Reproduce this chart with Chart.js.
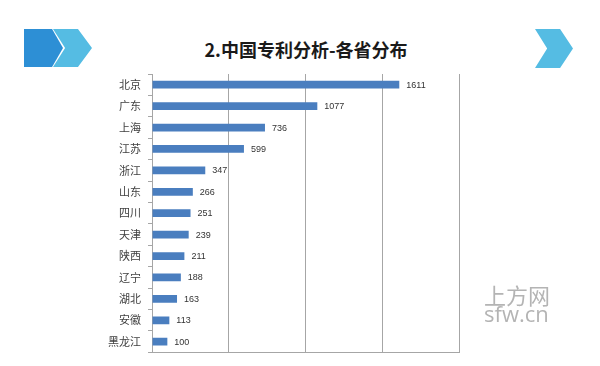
<!DOCTYPE html>
<html>
<head>
<meta charset="utf-8">
<script src="https://cdn.jsdelivr.net/npm/chart.js@4"></script>
<style>
  html, body { margin: 0; padding: 0; background: #fff; }
  #wrap { position: relative; width: 600px; height: 366px; overflow: hidden; }
  #c { position: absolute; left: 0; top: 0; }
  .chev { position: absolute; }
  #title {
    position: absolute; left: 0; width: 612px; top: 40px; text-align: center;
    font: bold 18px "Noto Sans CJK SC", sans-serif; line-height: 18px; color: #1a1a1a;
  }
  .mark { position: absolute; left: 484px; color: #b4b4b4; }
</style>
</head>
<body>
<div id="wrap">
  <div class="chev" style="left:24px;top:29px;width:39px;height:38px;background:#2d8fd5;clip-path:polygon(0 0,72% 0,100% 50%,72% 100%,0 100%);"></div>
  <div class="chev" style="left:53px;top:29px;width:39px;height:38px;background:#55bce3;clip-path:polygon(0 0,64% 0,100% 50%,64% 100%,0 100%,31% 50%);"></div>
  <div class="chev" style="left:535px;top:29px;width:38px;height:39px;background:#55bce3;clip-path:polygon(0 0,66% 0,100% 50%,66% 100%,0 100%,32% 50%);"></div>
  <div id="title">2.中国专利分析-各省分布</div>
  <canvas id="c" width="600" height="366"></canvas>
  <div class="mark" style="top:283px;font:22px/22px 'Noto Sans CJK SC',sans-serif;">上方网</div>
  <div class="mark" style="top:300px;font:22px/26px 'Open Sans',sans-serif;">sfw.cn</div>
</div>
<script>
// ========= data =========
const provinces = ['北京', '广东', '上海', '江苏', '浙江', '山东', '四川', '天津', '陕西', '辽宁', '湖北', '安徽', '黑龙江'];
const patents   = [1611, 1077, 736, 599, 347, 266, 251, 239, 211, 188, 163, 113, 100];
const xTicks    = [0, 500, 1000, 1500, 2000];

// 数值标签（柱子右侧）
const valueLabels = {
  id: 'valueLabels',
  afterDatasetsDraw(chart) {
    const ctx = chart.ctx;
    const meta = chart.getDatasetMeta(0);
    ctx.save();
    ctx.font = '9px "Liberation Sans", sans-serif';
    ctx.fillStyle = '#333';
    ctx.textBaseline = 'middle';
    meta.data.forEach((bar, i) => {
      ctx.fillText(String(patents[i]), bar.x + 7, bar.y + 0.5);
    });
    ctx.restore();
  }
};

new Chart(document.getElementById('c'), {
  type: 'bar',
  data: {
    labels: provinces,
    datasets: [{
      data: patents,
      backgroundColor: '#4a7ebf',
      borderWidth: 0,
      barPercentage: 0.36,
      categoryPercentage: 1
    }]
  },
  options: {
    indexAxis: 'y',
    responsive: false,
    animation: false,
    events: [],
    layout: { padding: { left: 0, right: 141, top: 74, bottom: 13 } },
    plugins: { legend: { display: false }, tooltip: { enabled: false } },
    scales: {
      x: {
        min: xTicks[0],
        max: xTicks[xTicks.length - 1],
        afterBuildTicks: (s) => { s.ticks = xTicks.map(v => ({ value: v })); },
        ticks: { display: false },
        grid: { color: '#a6a6a6', lineWidth: 1, drawTicks: false },
        border: { color: '#a6a6a6' },
        afterFit: (s) => { s.height = 0; }
      },
      y: {
        ticks: {
          color: '#404040',
          font: { family: '"Noto Sans CJK SC", sans-serif', size: 11 },
          padding: 7
        },
        grid: { offset: true, drawOnChartArea: false, drawTicks: true, tickLength: 4, color: '#a6a6a6' },
        border: { color: '#a6a6a6' },
        afterFit: (s) => { s.width = 152; }
      }
    }
  },
  plugins: [valueLabels]
});
</script>
</body>
</html>
